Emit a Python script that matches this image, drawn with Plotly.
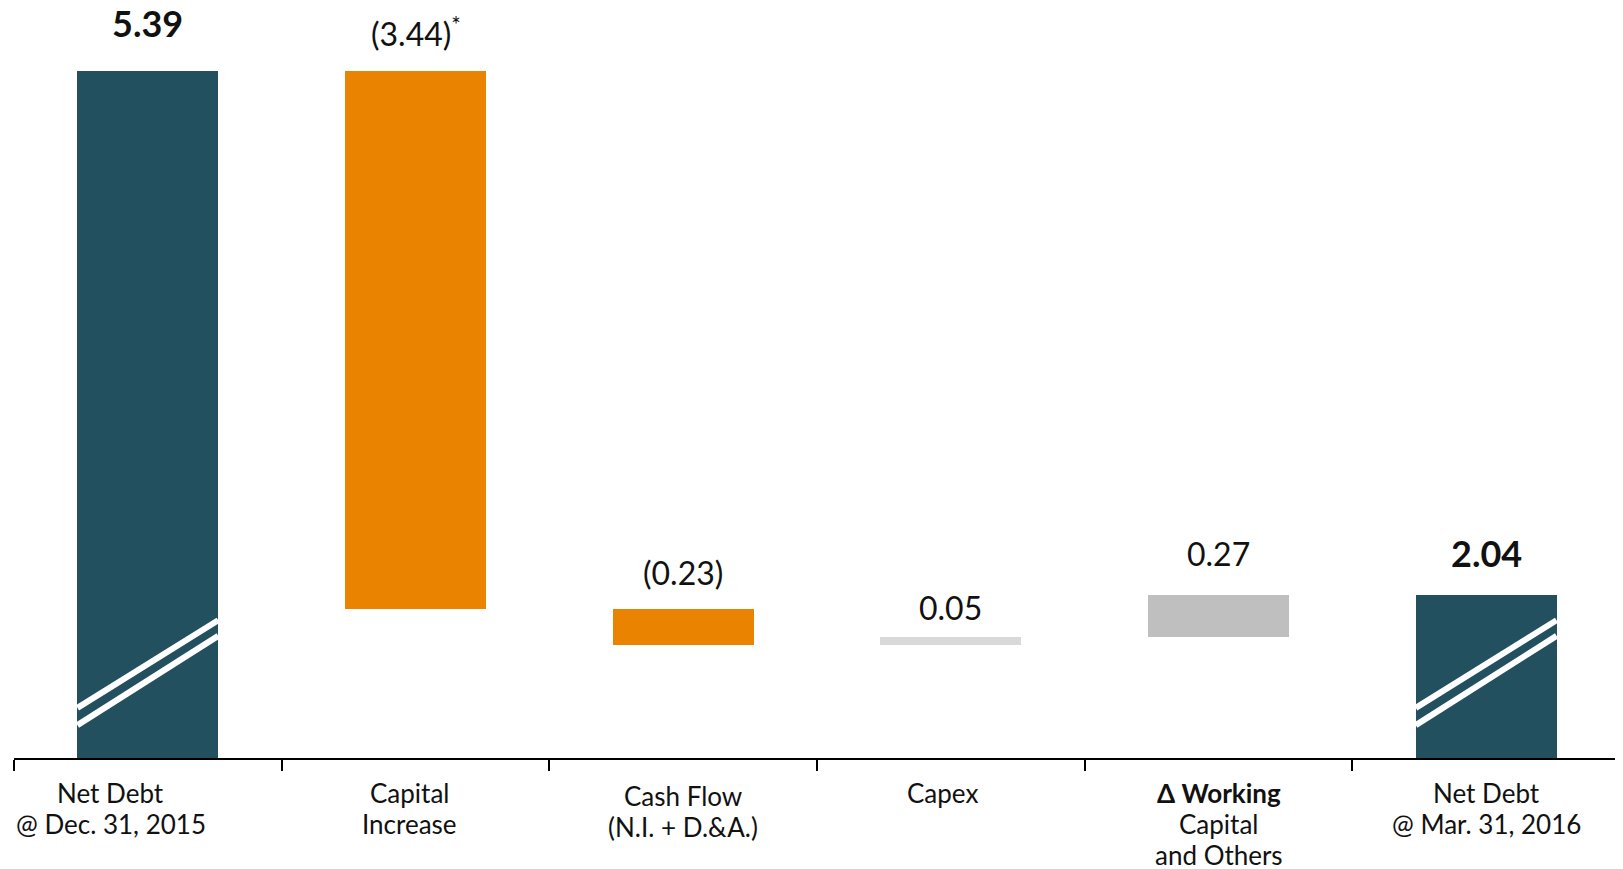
import plotly.graph_objects as go

# ---- data ----
categories = ["Net Debt<br>@ Dec. 31, 2015", "Capital<br>Increase", "Cash Flow<br>(N.I. + D.&A.)",
              "Capex", "<b>Δ Working</b><br>Capital<br>and Others", "Net Debt<br>@ Mar. 31, 2016"]
values = [5.39, -3.44, -0.23, 0.05, 0.27, 2.04]
kinds = ["total", "delta", "delta", "delta", "delta", "total"]
value_labels = ["5.39", "(3.44)<sup>*</sup>", "(0.23)", "0.05", "0.27", "2.04"]

# ---- style ----
bar_colors = ["#23505f", "#e98300", "#e98300", "#d9d9d9", "#bfbfbf", "#23505f"]
label_shift = [48, 39, 37, 30, 42, 42]      # px above bar top (value label centre)
cat_xshift = [-37, -6, 0, -8, 0, 0]         # px horizontal nudge of category labels
cat_yshift = [0, 0, -3, 0, 0, 0]            # px vertical nudge of category labels
FONT = "Lato"
axis_floor = 1.0          # broken axis starts here
axis_top = 5.79
bar_width = 0.526
line_gap = 31.3           # px between category label lines
first_line = 34.5         # px from axis to first label line centre

# waterfall geometry via running total
bases, heights, tops = [], [], []
running = 0.0
for v, k in zip(values, kinds):
    if k == "total":
        bases.append(0.0); heights.append(v); tops.append(v)
        running = v
    else:
        start = running
        end = running + v
        bases.append(min(start, end)); heights.append(abs(v)); tops.append(max(start, end))
        running = end

fig = go.Figure()
fig.add_trace(go.Bar(
    x=list(range(len(categories))), y=heights, base=bases,
    marker=dict(color=bar_colors, line=dict(width=0)),
    width=bar_width, hoverinfo="skip", showlegend=False,
))

# value labels
for i, (lab, k) in enumerate(zip(value_labels, kinds)):
    bold = k == "total"
    fig.add_annotation(
        x=i, y=tops[i], text=f"<b>{lab}</b>" if bold else lab,
        showarrow=False, yanchor="middle", xanchor="center",
        yshift=label_shift[i],
        font=dict(family=FONT, size=36 if bold else 32, color="#111111"),
    )

# category labels (one annotation per line for tight line spacing)
for i, cat in enumerate(categories):
    for j, line in enumerate(cat.split("<br>")):
        fig.add_annotation(
            x=i, xref="x", y=0, yref="paper", text=line,
            showarrow=False, xanchor="center", yanchor="middle",
            xshift=cat_xshift[i], yshift=-(first_line + j * line_gap) + cat_yshift[i],
            font=dict(family=FONT, size=26, color="#111111"),
        )

# axis-break marks on the total bars
brk = [(0.32, 0.88), (0.21, 0.78)]  # offsets above the axis floor (left, right)
for i, k in enumerate(kinds):
    if k != "total":
        continue
    for lo, hi in brk:
        fig.add_shape(type="line", layer="above",
                      x0=i - bar_width / 2, x1=i + bar_width / 2,
                      y0=axis_floor + lo, y1=axis_floor + hi,
                      line=dict(color="white", width=6))

fig.update_layout(
    width=1623, height=869,
    margin=dict(l=6, r=11, t=0, b=119),
    paper_bgcolor="white", plot_bgcolor="white",
    bargap=0,
    font=dict(family=FONT, size=26, color="#111111"),
)
fig.update_xaxes(
    range=[-0.5, len(categories) - 0.5],
    tickmode="array", tickvals=[i - 0.5 for i in range(len(categories) + 1)],
    showticklabels=False,
    ticks="outside", ticklen=11, tickwidth=2, tickcolor="black",
    showline=True, linecolor="black", linewidth=2,
    showgrid=False, zeroline=False,
)
fig.update_yaxes(range=[axis_floor, axis_top], visible=False, showgrid=False, zeroline=False)

fig.write_html("out.html")
